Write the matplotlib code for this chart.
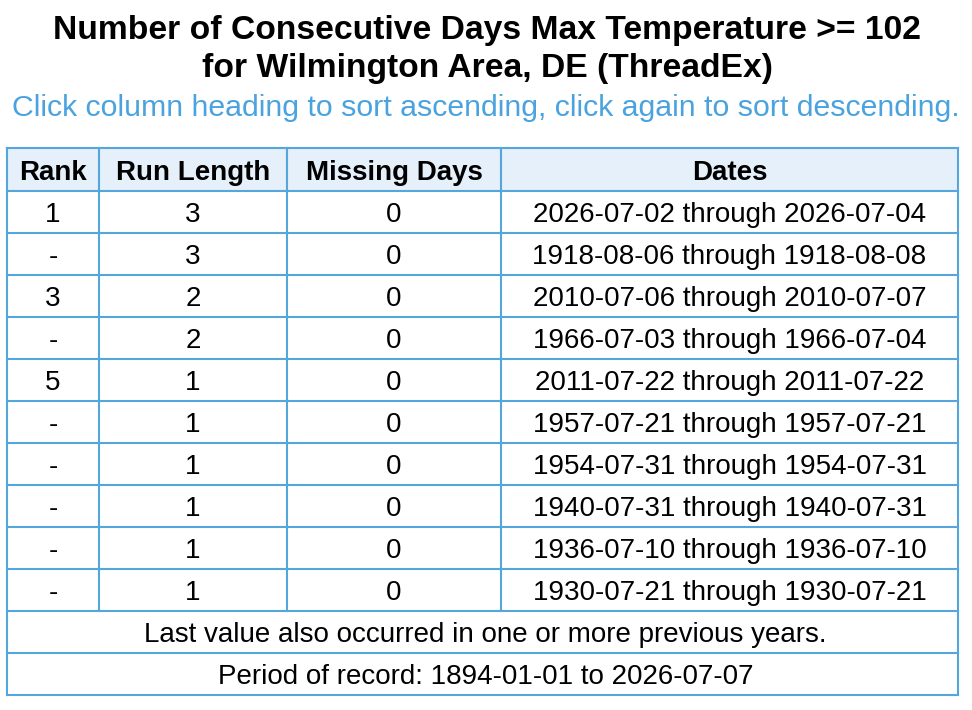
import matplotlib
matplotlib.use("Agg")
import matplotlib.pyplot as plt
from matplotlib.patches import Rectangle

title_lines = ["Number of Consecutive Days Max Temperature >= 102",
               "for Wilmington Area, DE (ThreadEx)"]
subtitle = "Click column heading to sort ascending, click again to sort descending."
headers = ["Rank", "Run Length", "Missing Days", "Dates"]
ranks = ["1", "-", "3", "-", "5", "-", "-", "-", "-", "-"]
run_lengths = [3, 3, 2, 2, 1, 1, 1, 1, 1, 1]
missing_days = [0, 0, 0, 0, 0, 0, 0, 0, 0, 0]
start_dates = ["2026-07-02", "1918-08-06", "2010-07-06", "1966-07-03", "2011-07-22",
               "1957-07-21", "1954-07-31", "1940-07-31", "1936-07-10", "1930-07-21"]
end_dates = ["2026-07-04", "1918-08-08", "2010-07-07", "1966-07-04", "2011-07-22",
             "1957-07-21", "1954-07-31", "1940-07-31", "1936-07-10", "1930-07-21"]
footnotes = ["Last value also occurred in one or more previous years.",
             "Period of record: 1894-01-01 to 2026-07-07"]

W, H = 972, 710
fig = plt.figure(figsize=(W / 100, H / 100), dpi=100)
ax = fig.add_axes([0, 0, 1, 1])
ax.set_xlim(0, W)
ax.set_ylim(H, 0)
ax.axis("off")

FONT = "Liberation Sans"
border = "#55a6dd"
header_bg = "#e6f0fa"
blue_text = "#4aa3df"
CELL_FS = 20
BASE = 31.5

# Title
ax.text(W / 2 + 1, 38.5, title_lines[0], ha="center", va="baseline", fontsize=24.2,
        fontweight="bold", family=FONT)
ax.text(W / 2 + 1, 77.5, title_lines[1], ha="center", va="baseline", fontsize=24.2,
        fontweight="bold", family=FONT)
ax.text(W / 2, 116.5, subtitle, ha="center", va="baseline", fontsize=21.8,
        color=blue_text, family=FONT)

# Table geometry
col_edges = [7, 99, 287, 501, 958]
top = 148
header_h = 43
row_h = 42
n_rows = len(ranks)
left, right = col_edges[0], col_edges[-1]

# header background
ax.add_patch(Rectangle((left, top), right - left, header_h, facecolor=header_bg,
                       edgecolor="none", zorder=0))
for i, h in enumerate(headers):
    cx = (col_edges[i] + col_edges[i + 1]) / 2
    ax.text(cx, top + BASE, h, ha="center", va="baseline", fontsize=CELL_FS,
            fontweight="bold", family=FONT)

y0 = top + header_h
for r in range(n_rows):
    by = y0 + r * row_h + BASE
    vals = [ranks[r], str(run_lengths[r]), str(missing_days[r]),
            f"{start_dates[r]} through {end_dates[r]}"]
    for i, v in enumerate(vals):
        cx = (col_edges[i] + col_edges[i + 1]) / 2
        ax.text(cx, by, v, ha="center", va="baseline", fontsize=CELL_FS, family=FONT)

data_bottom = y0 + n_rows * row_h
for k, note in enumerate(footnotes):
    by = data_bottom + k * row_h + BASE
    ax.text(W / 2 - 0.5, by, note, ha="center", va="baseline", fontsize=CELL_FS, family=FONT)

bottom = data_bottom + len(footnotes) * row_h

lw = 1.5
# horizontal lines
hlines = [top, top + header_h] + [y0 + (r + 1) * row_h for r in range(n_rows)] + \
         [data_bottom + (k + 1) * row_h for k in range(len(footnotes))]
for y in hlines:
    ax.plot([left, right], [y, y], color=border, lw=lw, solid_capstyle="projecting")
# vertical lines
for x in col_edges:
    if x in (left, right):
        ax.plot([x, x], [top, bottom], color=border, lw=lw, solid_capstyle="projecting")
    else:
        ax.plot([x, x], [top, data_bottom], color=border, lw=lw, solid_capstyle="projecting")

fig.savefig("out.png", dpi=100)
